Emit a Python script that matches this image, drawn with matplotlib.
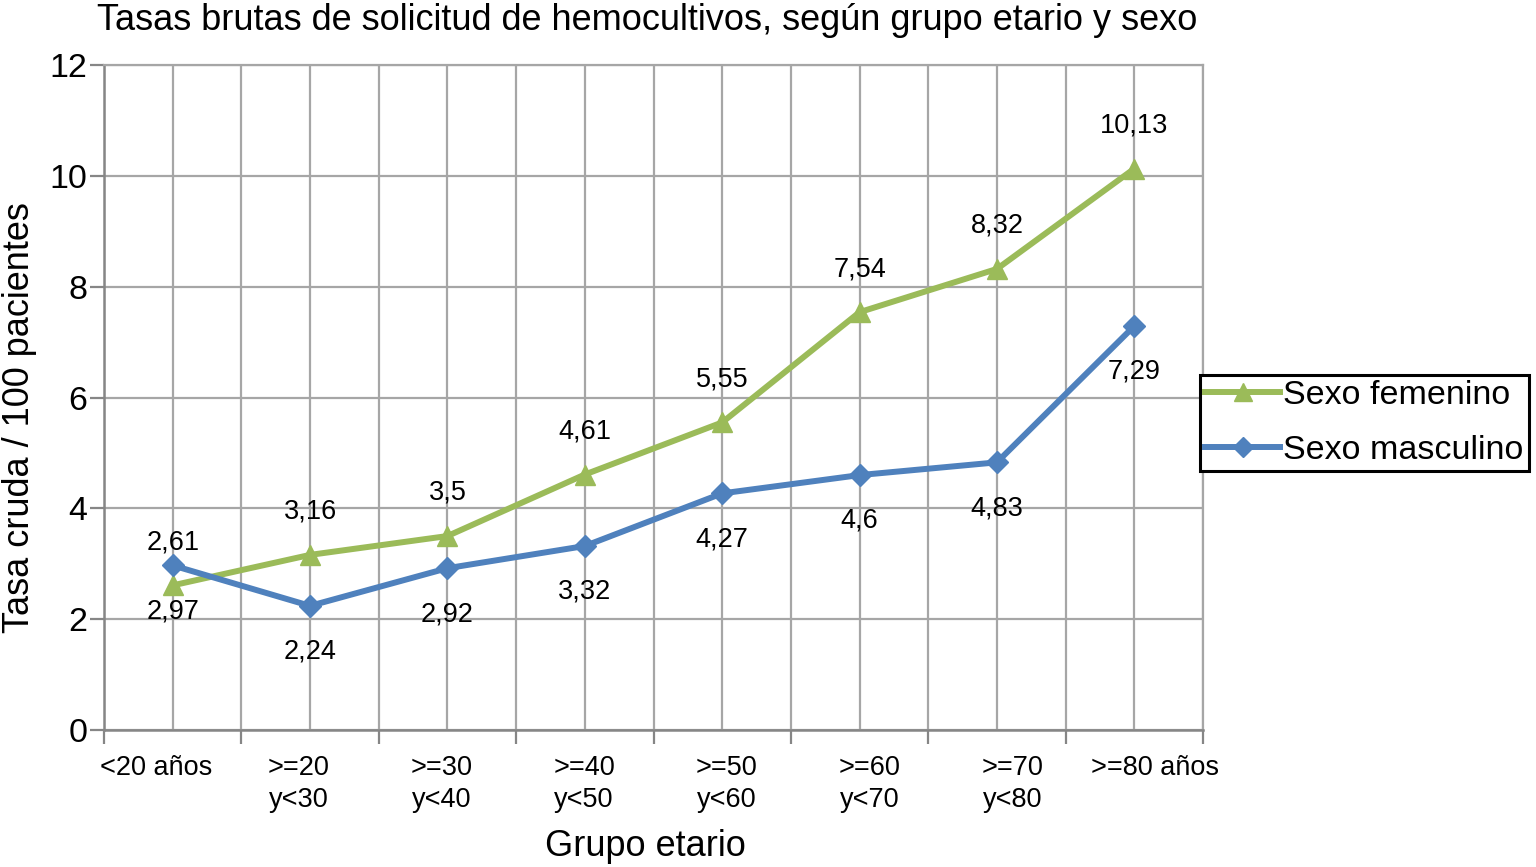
import matplotlib
matplotlib.use("Agg")
import matplotlib.pyplot as plt
import matplotlib.transforms as mtrans
import numpy as np

plt.rcParams['font.family'] = ['Liberation Sans', 'DejaVu Sans']

categories = ["<20 años", ">=20\ny<30", ">=30\ny<40", ">=40\ny<50",
              ">=50\ny<60", ">=60\ny<70", ">=70\ny<80", ">=80 años"]
femenino = [2.61, 3.16, 3.5, 4.61, 5.55, 7.54, 8.32, 10.13]
masculino = [2.97, 2.24, 2.92, 3.32, 4.27, 4.6, 4.83, 7.29]
fem_labels = ["2,61", "3,16", "3,5", "4,61", "5,55", "7,54", "8,32", "10,13"]
mas_labels = ["2,97", "2,24", "2,92", "3,32", "4,27", "4,6", "4,83", "7,29"]
yticks = [0, 2, 4, 6, 8, 10, 12]

GREEN = "#9BBB59"
BLUE = "#4F81BD"
GRID = "#A6A6A6"
AXIS = "#868686"

W, H = 1536, 867
fig = plt.figure(figsize=(W / 100, H / 100), dpi=100)
ax = fig.add_axes([104 / W, (H - 730) / H, (1203 - 104) / W, (730 - 65) / H])

x = np.arange(len(categories))
ax.plot(x, femenino, color=GREEN, lw=4.3, marker="^", ms=14, mec=GREEN,
        mfc=GREEN, label="Sexo femenino", zorder=4, clip_on=False)
ax.plot(x, masculino, color=BLUE, lw=4.3, marker="D", ms=11, mec=BLUE,
        mfc=BLUE, label="Sexo masculino", zorder=5, clip_on=False)

for xi, v, t in zip(x, femenino, fem_labels):
    ax.annotate(t, (xi, v), xytext=(0, 31), textcoords="offset points",
                ha="center", va="center", fontsize=19.5, color="black")
for xi, v, t in zip(x, masculino, mas_labels):
    ax.annotate(t, (xi, v), xytext=(0, -33), textcoords="offset points",
                ha="center", va="center", fontsize=19.5, color="black")

ax.set_xlim(-0.5, len(categories) - 0.5)
ax.set_ylim(0, 12)
ax.set_yticks(yticks)
ax.set_yticklabels([str(v) for v in yticks], fontsize=24.5)
ax.set_xticks(np.arange(-0.5, len(categories), 1.0))
ax.set_xticks(x, minor=True)
ax.set_xticklabels([])
ax.tick_params(axis="x", which="major", length=10, width=1.6, color=AXIS,
               direction="out")
ax.tick_params(axis="x", which="minor", length=0)
ax.tick_params(axis="y", length=10, width=1.6, color=AXIS, direction="out", pad=2)

ax.grid(True, which="both", axis="x", color=GRID, lw=1.6)
ax.grid(True, which="major", axis="y", color=GRID, lw=1.6)
ax.set_axisbelow(True)
for s in ["top", "right"]:
    ax.spines[s].set_color(GRID)
    ax.spines[s].set_linewidth(1.6)
for s in ["left", "bottom"]:
    ax.spines[s].set_color(AXIS)
    ax.spines[s].set_linewidth(1.8)

# category labels (spread slightly wider than categories, as in the source)
trans = mtrans.blended_transform_factory(ax.transData, ax.transAxes)
for i, c in enumerate(categories):
    ax.text(-0.122 + 1.039 * i, -0.038, c, transform=trans, ha="center",
            va="top", fontsize=19.5, multialignment="center", linespacing=1.3)

fig.text(97 / W, 1 - 20 / H,
         "Tasas brutas de solicitud de hemocultivos, según grupo etario y sexo",
         ha="left", va="center", fontsize=26)
fig.text(645 / W, 1 - 847 / H, "Grupo etario", ha="center", va="center",
         fontsize=26)
fig.text(20 / W, 1 - 418 / H, "Tasa cruda / 100 pacientes", ha="center",
         va="center", rotation=90, fontsize=26)

leg = fig.legend(loc="center left", bbox_to_anchor=(1200 / W, 1 - 423 / H),
                 fontsize=24.5, frameon=True, fancybox=False, framealpha=1,
                 edgecolor="black", handlelength=2.2, handletextpad=0.1,
                 borderpad=0.15, borderaxespad=0, labelspacing=0.72,
                 markerscale=0.9)
leg.get_frame().set_linewidth(2.2)

fig.savefig("out.png", dpi=100)
